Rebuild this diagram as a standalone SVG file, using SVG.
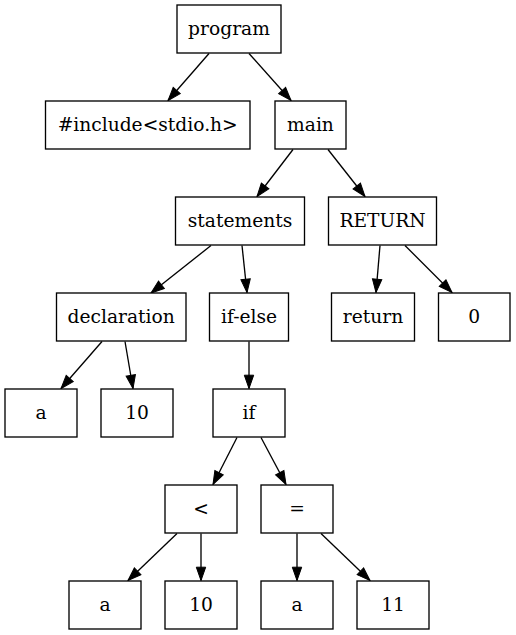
<svg xmlns="http://www.w3.org/2000/svg" width="516" height="635" viewBox="0 0 516 635">
<style>
.n rect{fill:#fff;stroke:#000;stroke-width:1.33}
.n text{font-family:"DejaVu Serif","Liberation Serif",serif;font-size:18.67px;text-anchor:middle;fill:#000}
#edges path{fill:none;stroke:#000;stroke-width:1.33;marker-end:url(#ah)}
</style>
<defs>
<marker id="ah" markerUnits="userSpaceOnUse" markerWidth="15" markerHeight="11" refX="13.3" refY="5" orient="auto" overflow="visible">
<path d="M0,0.3 L13.3,5 L0,9.7 z" fill="#000" stroke="#000" stroke-width="1"/>
</marker>
</defs>
<rect width="516" height="635" fill="#fff"/>
<g id="edges">
<path d="M209,53.5 L168,100.5"/>
<path d="M249,53.5 L291,100.5"/>
<path d="M293,149.5 L257,196.5"/>
<path d="M328,149.5 L365,196.5"/>
<path d="M211,245.5 L151,293"/>
<path d="M242,245.5 L247,292.5"/>
<path d="M380,245.5 L376,292.5"/>
<path d="M405,245.5 L452,292.5"/>
<path d="M102,341.5 L61,388.5"/>
<path d="M125,341.5 L133,388.5"/>
<path d="M249,341.5 L249,388.5"/>
<path d="M237,437.5 L213,484.5"/>
<path d="M261,437.5 L286,484.5"/>
<path d="M177,533.5 L128,580.5"/>
<path d="M201,533.5 L201,580.5"/>
<path d="M297,533.5 L297,580.5"/>
<path d="M321,533.5 L370,580.5"/>
</g>
<g id="program" class="n"><rect x="177" y="5" width="104" height="48"/><text x="229" y="34.5">program</text></g>
<g id="include" class="n"><rect x="45.5" y="101" width="204.5" height="48"/><text x="147.7" y="130.5">#include&lt;stdio.h&gt;</text></g>
<g id="main" class="n"><rect x="275" y="101" width="71" height="48"/><text x="310.5" y="130.5">main</text></g>
<g id="statements" class="n"><rect x="175.5" y="197" width="129" height="48"/><text x="240" y="226.5">statements</text></g>
<g id="RETURN" class="n"><rect x="328.5" y="197" width="108" height="48"/><text x="382.5" y="226.5">RETURN</text></g>
<g id="declaration" class="n"><rect x="56.5" y="293" width="129.5" height="48"/><text x="121.2" y="322.5">declaration</text></g>
<g id="ifelse" class="n"><rect x="209.5" y="293" width="79" height="48"/><text x="249" y="322.5">if-else</text></g>
<g id="return" class="n"><rect x="331.5" y="293" width="83" height="48"/><text x="373" y="322.5">return</text></g>
<g id="zero" class="n"><rect x="438.5" y="293" width="71.5" height="48"/><text x="474.2" y="322.5">0</text></g>
<g id="a1" class="n"><rect x="5" y="389" width="72" height="48"/><text x="41" y="418.5">a</text></g>
<g id="ten1" class="n"><rect x="101" y="389" width="72" height="48"/><text x="137" y="418.5">10</text></g>
<g id="if" class="n"><rect x="213" y="389" width="72" height="48"/><text x="249" y="418.5">if</text></g>
<g id="lt" class="n"><rect x="165" y="485" width="72" height="48"/><text x="201" y="514.5">&lt;</text></g>
<g id="eq" class="n"><rect x="261" y="485" width="72" height="48"/><text x="297" y="514.5">=</text></g>
<g id="a2" class="n"><rect x="69" y="581" width="72" height="48"/><text x="105" y="610.5">a</text></g>
<g id="ten2" class="n"><rect x="165" y="581" width="72" height="48"/><text x="201" y="610.5">10</text></g>
<g id="a3" class="n"><rect x="261" y="581" width="72" height="48"/><text x="297" y="610.5">a</text></g>
<g id="eleven" class="n"><rect x="357" y="581" width="72" height="48"/><text x="393" y="610.5">11</text></g>
</svg>
